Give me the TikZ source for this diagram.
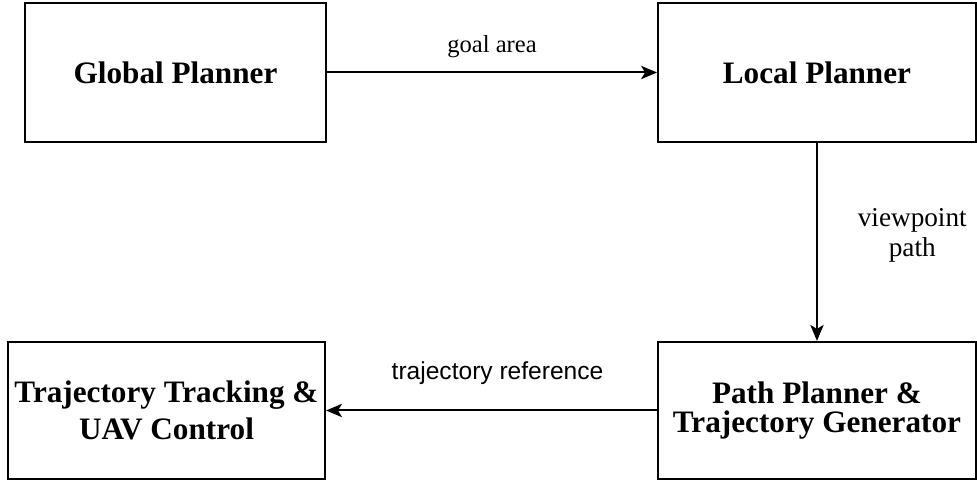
\documentclass[tikz,border=0pt]{standalone}
\usepackage{fontspec}
\setmainfont{Liberation Serif}
\setsansfont{Liberation Sans}
\usetikzlibrary{arrows.meta}

\begin{document}
\begin{tikzpicture}[auto,
            box/.style={inner sep=0mm,minimum height=3.63cm,minimum width=8.41cm,draw,align=center,
                        font=\fontsize{23.5}{28}\selectfont\bfseries},line width=1.5pt,
            edge/.style={-{Stealth[length=12pt,width=10pt,inset=3pt]},line width=1.5pt},
            lbl/.style={inner sep=0mm,align=center,font=\fontsize{18.5}{22}\selectfont},
        ]
        \useasboundingbox (0,0) rectangle (25.85,12.726);

        \node[box,minimum width=7.96cm,minimum height=3.68cm] (global) at (4.643,10.808) {Global Planner};
        \node[box,minimum height=3.68cm] (local) at (21.616,10.808) {Local Planner};
        \node[box,font=\fontsize{23.5}{22.5}\selectfont\bfseries] (pathgen) at (21.616,1.865) {Path Planner \&\\Trajectory Generator};
        \node[box,minimum width=8.39cm] (tracking) at (4.405,1.865) {Trajectory Tracking \&\\UAV Control};

        %planning
        \draw [edge] (global) -- node [lbl,above=10.5pt] {goal area} (local);
        \draw [edge] (local) -- node [lbl,right=30pt,yshift=5pt,font=\fontsize{20.5}{22}\selectfont] {viewpoint\\path} (pathgen);

        %control
        \draw [edge] (pathgen) -- node [lbl,above=18.5pt,xshift=4.5pt,font=\fontsize{18.5}{22}\selectfont\sffamily] {trajectory reference} (tracking);
\end{tikzpicture}
\end{document}
